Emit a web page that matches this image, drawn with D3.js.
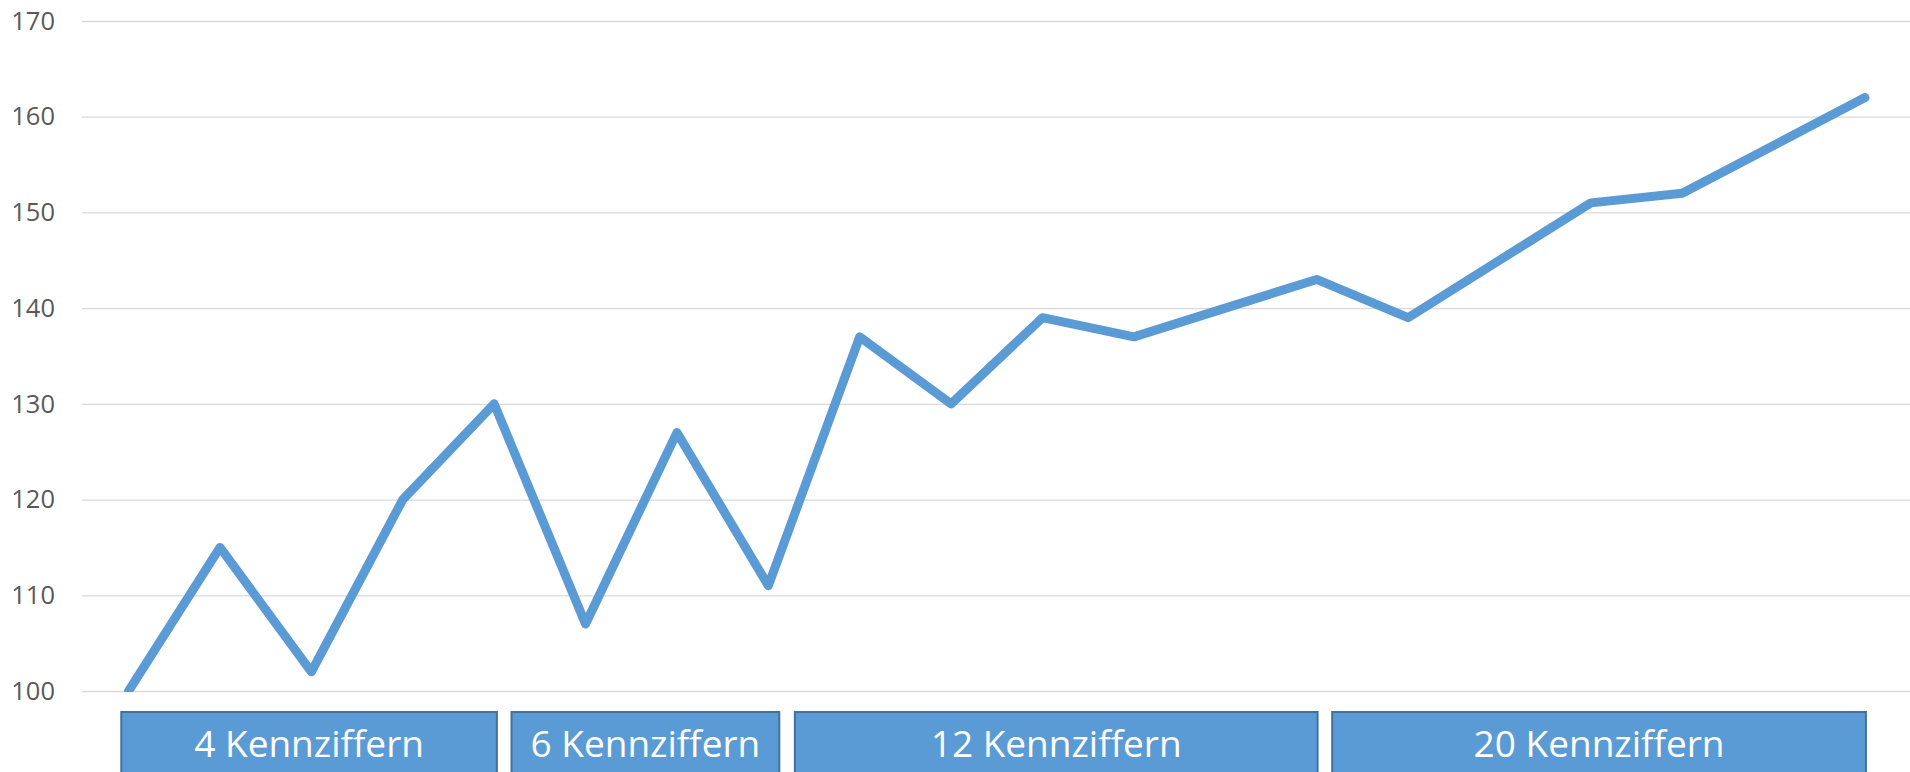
<!DOCTYPE html>
<html>
<head>
<meta charset="utf-8">
<script src="https://cdn.jsdelivr.net/npm/d3@7"></script>
<style>
    html, body { margin: 0; padding: 0; background: #fff; }
    #canvas { width: 1910px; height: 772px; }
</style>
</head>
<body>
<div id="canvas"></div>
<script>
// Series values, one per point along the x axis
const values = [100, 115, 102, 120, 130, 107, 127, 111, 137, 130,
                139, 137, 140, 143, 139, 145, 151, 152, 157, 162];

// y axis ticks
const yTicks = [100, 110, 120, 130, 140, 150, 160, 170];

// Group boxes under the chart (span in point units)
const groupLabels = ["4 Kennziffern", "6 Kennziffern", "12 Kennziffern", "20 Kennziffern"];
const groupStart = [-0.08, 4.19, 7.29, 13.17];
const groupEnd = [4.03, 7.12, 13.01, 19.01];

const canvas = document.getElementById("canvas");
const W = canvas.clientWidth, H = canvas.clientHeight;

const svg = d3.select('#canvas')
    .append('svg')
    .attr('width', W)
    .attr('height', H);

const x = d3.scaleLinear()
    .domain([0, values.length - 1])
    .range([128.6, 1865]);

const y = d3.scaleLinear()
    .domain([100, 170])
    .range([691, 21]);

// Gridlines + tick labels
const yAxis = svg.append('g')
    .attr('transform', 'translate(82,0)')
    .call(d3.axisLeft(y).tickValues(yTicks).tickSize(-(W - 82)).tickPadding(27));

yAxis.select('.domain').remove();
yAxis.selectAll('.tick line')
    .attr('stroke', '#d9d9d9')
    .attr('stroke-width', 1.3);
yAxis.selectAll('.tick text')
    .attr('fill', '#595959')
    .style('font-family', '"Open Sans", sans-serif')
    .style('font-size', '25.5px');

// Clip line at the plot bottom
svg.append('clipPath')
    .attr('id', 'plotClip')
    .append('rect')
    .attr('x', 0).attr('y', 0)
    .attr('width', W).attr('height', 692);

const line = d3.line()
    .x((d, i) => x(i))
    .y(d => y(d));

svg.append('path')
    .datum(values)
    .attr('d', line)
    .attr('clip-path', 'url(#plotClip)')
    .attr('fill', 'none')
    .attr('stroke', '#5b9bd5')
    .attr('stroke-width', 9)
    .attr('stroke-linejoin', 'round')
    .attr('stroke-linecap', 'round');

// Group boxes
const groups = svg.selectAll('g.group')
    .data(groupLabels)
    .enter()
    .append('g')
    .attr('class', 'group');

groups.append('rect')
    .attr('x', (d, i) => x(groupStart[i]))
    .attr('y', 712)
    .attr('width', (d, i) => x(groupEnd[i]) - x(groupStart[i]))
    .attr('height', 80)
    .attr('fill', '#5b9bd5')
    .attr('stroke', '#41719c')
    .attr('stroke-width', 2);

groups.append('text')
    .attr('x', (d, i) => (x(groupStart[i]) + x(groupEnd[i])) / 2)
    .attr('y', 757)
    .attr('text-anchor', 'middle')
    .attr('fill', '#fff')
    .style('font-family', '"Open Sans", sans-serif')
    .style('font-size', '37px')
    .text(d => d);
</script>
</body>
</html>
